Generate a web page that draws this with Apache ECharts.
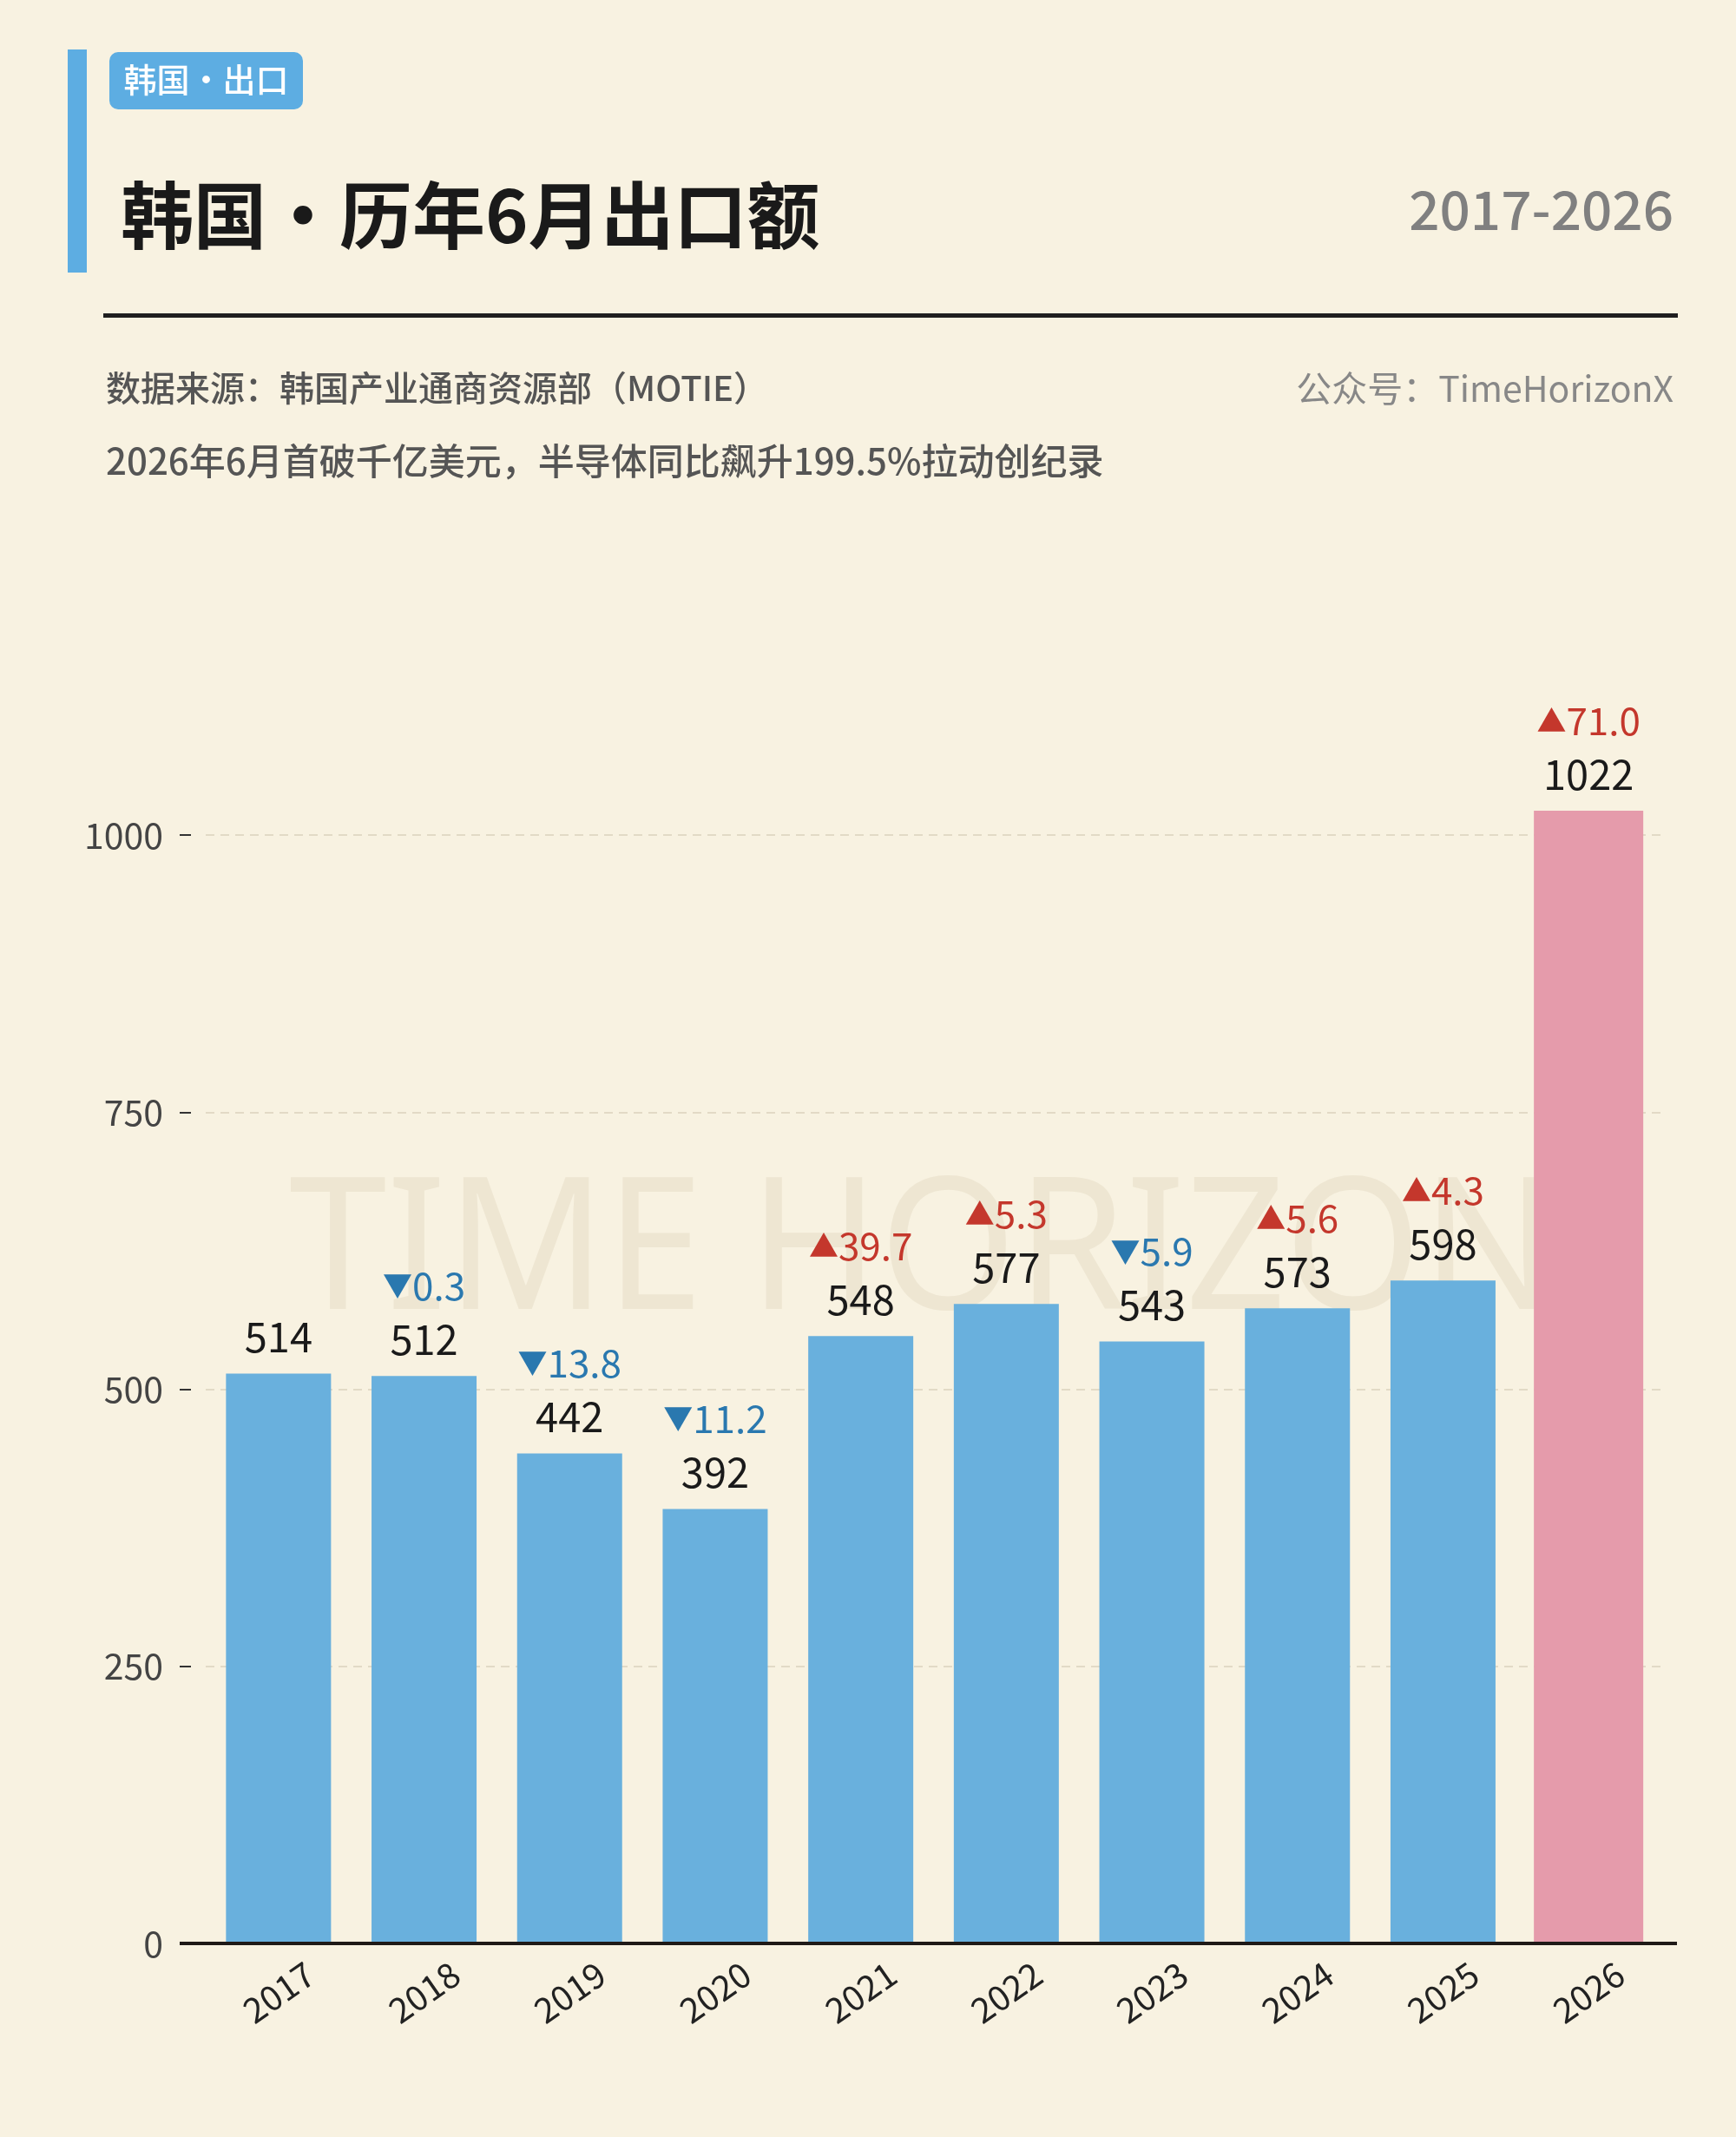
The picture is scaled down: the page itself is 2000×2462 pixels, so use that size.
<!DOCTYPE html>
<html>
<head>
<meta charset="utf-8">
<title>韩国 · 历年6月出口额</title>
<script src="https://cdn.jsdelivr.net/npm/echarts@6/dist/echarts.min.js"></script>
<style>
    html, body { margin: 0; padding: 0; background: #F8F2E1; }
    #chart { width: 2000px; height: 2462px; }
</style>
</head>
<body>
<div id="chart"></div>
<script>
// 数据：亿美元，同比%
var years = ['2017', '2018', '2019', '2020', '2021', '2022', '2023', '2024', '2025', '2026'];
var exportValues = [514, 512, 442, 392, 548, 577, 543, 573, 598, 1022];
var yoyChange = [null, -0.3, -13.8, -11.2, 39.7, 5.3, -5.9, 5.6, 4.3, 71.0];
var highlightYear = '2026';

var FONT = '"Noto Sans CJK SC", "Noto Sans", sans-serif';
var BLUE = '#69B0DD';
var PINK = '#E59BAB';
var UP = '#C4372C';
var DOWN = '#2A78AF';

// 拆成两个系列，2026 单独着色（放在隐藏的第二条 x 轴上，宽度互不影响）
var blueData = [];
var pinkData = [];
for (var i = 0; i < years.length; i++) {
    if (years[i] === highlightYear) {
        blueData.push('-');
        pinkData.push(exportValues[i]);
    } else {
        blueData.push(exportValues[i]);
        pinkData.push('-');
    }
}

function barLabel(params) {
    var chg = yoyChange[params.dataIndex];
    var val = '{v|' + exportValues[params.dataIndex] + '}';
    if (chg === null || chg === undefined) {
        return val;
    }
    var up = chg >= 0;
    var head = up ? '{tu|▲}{cu|' : '{td|▼}{cd|';
    return head + Math.abs(chg).toFixed(1) + '}\n' + val;
}

var labelRich = {
    v: { fontSize: 47, color: '#1A1A1A', fontFamily: FONT, lineHeight: 62 },
    tu: { fontSize: 34, color: UP, fontFamily: FONT, lineHeight: 62 },
    cu: { fontSize: 44, color: UP, fontFamily: FONT, lineHeight: 62 },
    td: { fontSize: 34, color: DOWN, fontFamily: FONT, lineHeight: 62 },
    cd: { fontSize: 44, color: DOWN, fontFamily: FONT, lineHeight: 62 }
};

var GRID_LEFT = 237, GRID_RIGHT = 86, GRID_TOP = 962, GRID_BOTTOM = 223;
var AXIS_Y = 2462 - GRID_BOTTOM;

function txt(text, x, y, size, color, weight, align) {
    return {
        type: 'text',
        x: x,
        y: y,
        style: {
            text: text,
            font: (weight || 'normal') + ' ' + size + 'px ' + FONT,
            fill: color,
            align: align || 'left',
            textAlign: align || 'left',
            verticalAlign: 'middle',
            textVerticalAlign: 'middle'
        }
    };
}

var chart = echarts.init(document.getElementById('chart'));

var option = {
    backgroundColor: '#F8F2E1',
    animation: false,
    grid: { left: GRID_LEFT, right: GRID_RIGHT, top: GRID_TOP, bottom: GRID_BOTTOM },
    xAxis: [
        {
            type: 'category',
            data: years,
            axisLine: { show: false },
            axisTick: { show: false },
            axisLabel: {
                rotate: 35,
                align: 'center',
                verticalAlign: 'middle',
                margin: 56,
                fontSize: 40,
                color: '#222',
                fontFamily: FONT
            }
        },
        { type: 'category', data: years, show: false }
    ],
    yAxis: {
        type: 'value',
        min: 0,
        max: 1000,
        interval: 250,
        offset: 17,
        axisLine: { show: false },
        axisTick: { show: true, length: 13, lineStyle: { color: '#333', width: 2 } },
        axisLabel: {
            margin: 32,
            fontSize: 41,
            color: '#444',
            fontFamily: FONT,
            formatter: function (v) { return String(v); }
        },
        splitLine: { lineStyle: { color: '#E2DAC6', width: 2, type: [10, 7] } }
    },
    series: [
        {
            type: 'bar',
            data: blueData,
            barWidth: 121,
            clip: false,
            itemStyle: { color: BLUE },
            label: { show: true, position: 'top', distance: 11, formatter: barLabel, rich: labelRich }
        },
        {
            type: 'bar',
            xAxisIndex: 1,
            data: pinkData,
            barWidth: 126,
            clip: false,
            itemStyle: { color: PINK },
            label: { show: true, position: 'top', distance: 11, formatter: barLabel, rich: labelRich }
        }
    ],
    graphic: [
        // 水印
        {
            type: 'text',
            z: 0,
            x: 333,
            y: 1448,
            scaleX: 0.955,
            style: {
                text: 'TIME HORIZON',
                font: 'normal 212px "Noto Sans", sans-serif',
                fill: '#EEE6D2',
                align: 'left',
                textAlign: 'left',
                verticalAlign: 'middle',
                textVerticalAlign: 'middle'
            }
        },
        // 左侧色条 + 标签
        { type: 'rect', shape: { x: 78, y: 57, width: 22, height: 257 }, style: { fill: '#5DADE2' } },
        { type: 'rect', shape: { x: 126, y: 60, width: 223, height: 66, r: 10 }, style: { fill: '#5DADE2' } },
        txt('韩国·出口', 237.5, 92, 38, '#FFFFFF', '500', 'center'),
        txt('韩国·历年6月出口额', 139, 248, 84, '#1A1A1A', 'bold'),
        txt('2017-2026', 1928, 241, 62, '#808080', '500', 'right'),
        { type: 'rect', shape: { x: 119, y: 361, width: 1814, height: 5 }, style: { fill: '#1F1F1F' } },
        txt('数据来源：韩国产业通商资源部（MOTIE）', 122, 447, 40, '#555', '500'),
        txt('公众号：TimeHorizonX', 1928, 447, 41, '#888', 'normal', 'right'),
        txt('2026年6月首破千亿美元，半导体同比飙升199.5%拉动创纪录', 122, 531, 42, '#555', '500'),
        // x 轴底线，两端略超出绘图区
        { type: 'rect', z: 10, shape: { x: 207, y: AXIS_Y - 2, width: 1725, height: 4 }, style: { fill: '#1F1A17' } }
    ]
};

chart.setOption(option);
</script>
</body>
</html>
